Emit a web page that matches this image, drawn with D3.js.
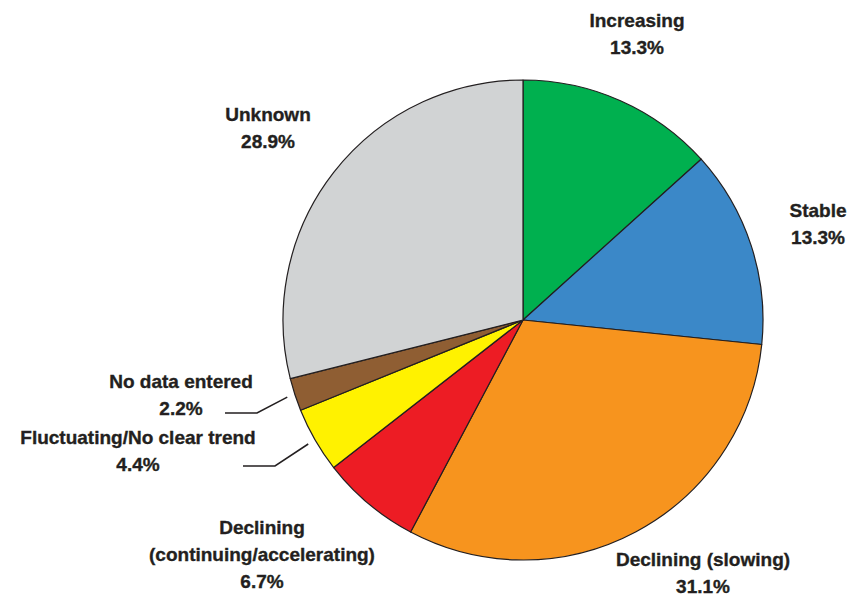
<!DOCTYPE html>
<html lang="en">
<head>
<meta charset="UTF-8">
<title>Trend pie</title>
<script src="https://cdn.jsdelivr.net/npm/d3@7"></script>
<style>
    body { margin: 0; background: #fff; }
    text { font-family: "Liberation Sans Narrow", "Arial Narrow", sans-serif; font-weight: bold; font-size: 19px; fill: #231f20; stroke: #231f20; stroke-width: 0.35px; }
</style>
</head>
<body>
<script>
    const categories = ["Increasing", "Stable", "Declining (slowing)", "Declining (continuing/accelerating)",
        "Fluctuating/No clear trend", "No data entered", "Unknown"]
    const percents = [13.3, 13.3, 31.1, 6.7, 4.4, 2.2, 28.9]
    const colors = ["#00b04f", "#3b88c8", "#f7941e", "#ed1c24", "#fff200", "#8f5e33", "#d1d3d4"]
    // label lines as printed
    const labelLines = [
        ["Increasing", "13.3%"],
        ["Stable", "13.3%"],
        ["Declining (slowing)", "31.1%"],
        ["Declining", "(continuing/accelerating)", "6.7%"],
        ["Fluctuating/No clear trend", "4.4%"],
        ["No data entered", "2.2%"],
        ["Unknown", "28.9%"]
    ]

    const w = 853, h = 597
    const cx = 523, cy = 320, r = 240

    // layout: label centre x, first baseline y
    const labelPos = [[637, 27], [818, 217], [703, 566], [262, 534], [138, 444], [181, 388], [268, 121]]
    // leaders: elbow and end for the small slices
    const leaders = { 4: [[275, 466], [243, 466]], 5: [[257, 413], [225, 413]] }

    const svg = d3.select("body").append("svg").attr("width", w).attr("height", h)
    const g = svg.append("g").attr("transform", `translate(${cx},${cy})`)

    const pie = d3.pie().sort(null).value(d => d)
    const arcs = pie(percents)
    const arc = d3.arc().innerRadius(0).outerRadius(r)
    const leaderArc = d3.arc().innerRadius(r + 8).outerRadius(r + 8)

    g.selectAll("path")
        .data(arcs)
        .enter()
        .append("path")
        .attr("d", arc)
        .style("fill", (d, i) => colors[i])
        .style("stroke", "#231f20")
        .style("stroke-width", 1.2)
        .style("stroke-linejoin", "round")

    //leader lines
    Object.keys(leaders).forEach(k => {
        const [sx, sy] = leaderArc.centroid(arcs[k])
        const pts = [[sx + cx, sy + cy], ...leaders[k]]
        svg.append("path")
            .attr("d", d3.line()(pts))
            .style("fill", "none")
            .style("stroke", "#231f20")
            .style("stroke-width", 1.5)
    })

    //labels
    labelLines.forEach((lines, i) => {
        const t = svg.append("text")
            .attr("x", labelPos[i][0])
            .attr("y", labelPos[i][1])
            .attr("text-anchor", "middle")
            .attr("aria-label", categories[i])
        lines.forEach((l, j) => {
            t.append("tspan").attr("x", labelPos[i][0]).attr("dy", j === 0 ? 0 : 27).text(l)
        })
    })
</script>
</body>
</html>
